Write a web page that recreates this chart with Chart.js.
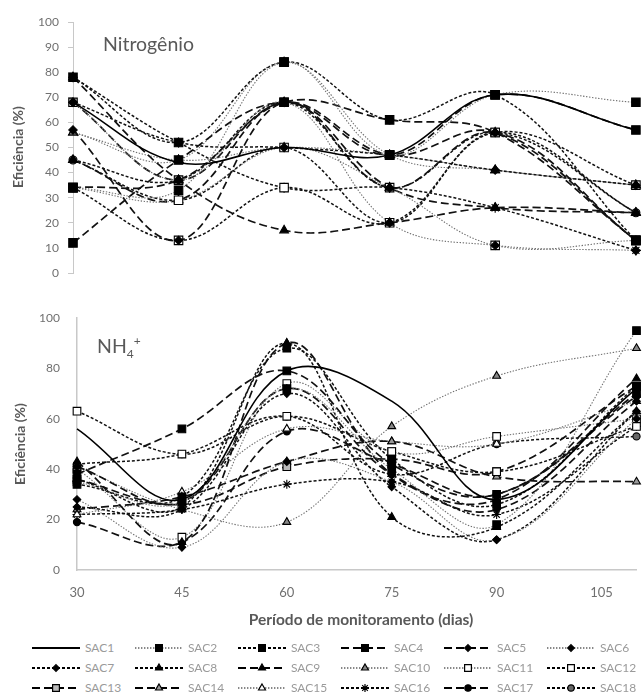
<!DOCTYPE html>
<html><head><meta charset="utf-8">
<script src="https://cdn.jsdelivr.net/npm/chart.js@4.4.1/dist/chart.umd.min.js"></script>
<style>
body{margin:0;width:643px;height:697px;overflow:hidden;background:#fff;position:relative;font-family:Lato,"Liberation Sans",sans-serif;}
canvas{position:absolute;left:0;}
.ttl{position:absolute;color:#595959;font-size:19.5px;line-height:1;white-space:nowrap;transform:translateY(-50%);}
.ytitle{position:absolute;color:#595959;font-weight:bold;font-size:14px;line-height:1;white-space:nowrap;transform:translate(-50%,-50%) rotate(-90deg);}
.xtitle{position:absolute;color:#595959;font-weight:bold;font-size:15.5px;line-height:1;white-space:nowrap;transform:translate(-50%,-50%);}
.lg{position:absolute;height:14px;transform:translateY(-50%);}
.lg canvas{position:absolute;left:0;top:0;}
.lg span{position:absolute;left:53px;top:0;font-size:12px;line-height:14px;color:#9a9a9a;white-space:nowrap;}
</style>
</head><body>
<canvas id="c1" width="643" height="290" style="top:0"></canvas>
<canvas id="c2" width="643" height="340" style="top:290px"></canvas>
<div class="ttl" style="left:103px;top:44px">Nitrogênio</div>
<div class="ttl" style="left:97px;top:346px">NH<span style="font-size:12px;position:relative;top:5px">4</span><span style="font-size:12px;position:relative;top:-8px">+</span></div>
<div class="ytitle" style="left:18px;top:147px">Eficiência (%)</div>
<div class="ytitle" style="left:20px;top:444px">Eficiência (%)</div>
<div class="xtitle" style="left:361px;top:620px">Período de monitoramento (dias)</div>
<div id="legend"></div>
<script>
// ---- data ----
const days = [30, 45, 60, 75, 90, 110];
const seriesNames = ['SAC1','SAC2','SAC3','SAC4','SAC5','SAC6','SAC7','SAC8','SAC9','SAC10','SAC11','SAC12','SAC13','SAC14','SAC15','SAC16','SAC17','SAC18'];
const yTicksNitrogenio = [0,10,20,30,40,50,60,70,80,90,100];
const yTicksNH4 = [0,20,40,60,80,100];
const xTickLabels = [30,45,60,75,90,105];

// Nitrogênio efficiency (%)
const N_SAC1  = [68, 44, 50, 47, 71, 57];
const N_SAC2  = [34, 33, 84, 47, 71, 68];
const N_SAC3  = [78, 52, 84, 61, 71, 13];
const N_SAC4  = [12, 45, 68, 47, 71, 57];
const N_SAC5  = [57, 13, 68, 34, 56, 13];
const N_SAC6  = [68, 37, 68, 20, 11, 9];
const N_SAC7  = [68, 52, 50, 47, 41, 35];
const N_SAC8  = [45, 37, 68, 34, 56, 24];
const N_SAC9  = [78, 37, 17, 20, 26, 24];
const N_SAC10 = [56, 45, 84, 47, 41, 35];
const N_SAC11 = [34, 29, 50, 34, 11, 13];
const N_SAC12 = [34, 13, 34, 20, 56, 35];
const N_SAC13 = [68, 37, 68, 47, 56, 13];
const N_SAC14 = [45, 29, 68, 34, 26, 24];
const N_SAC15 = [56, 45, 50, 47, 41, 35];
const N_SAC16 = [78, 52, 34, 34, 26, 9];
const N_SAC17 = [34, 37, 68, 61, 56, 13];
const N_SAC18 = [45, 29, 50, 20, 56, 24];

// NH4+ efficiency (%)
const A_SAC1  = [56, 28, 79, 67, 28, 72];
const A_SAC2  = [35, 27, 72, 40, 18, 95];
const A_SAC3  = [34, 29, 88, 44, 26, 73];
const A_SAC4  = [38, 56, 79, 42, 30, 70];
const A_SAC5  = [41, 27, 72, 38, 24, 67];
const A_SAC6  = [28, 9, 43, 35, 12, 60];
const A_SAC7  = [25, 24, 70, 33, 12, 63];
const A_SAC8  = [36, 25, 90, 21, 17, 63];
const A_SAC9  = [43, 11, 90, 38, 28, 76];
const A_SAC10 = [41, 24, 19, 57, 77, 88];
const A_SAC11 = [40, 13, 74, 47, 53, 60];
const A_SAC12 = [63, 46, 61, 47, 39, 57];
const A_SAC13 = [36, 26, 41, 44, 39, 73];
const A_SAC14 = [24, 29, 43, 51, 37, 35];
const A_SAC15 = [22, 31, 56, 51, 50, 67];
const A_SAC16 = [22, 24, 34, 35, 22, 57];
const A_SAC17 = [19, 11, 55, 42, 30, 69];
const A_SAC18 = [42, 46, 61, 38, 50, 53];

const nitroSeries = [N_SAC1,N_SAC2,N_SAC3,N_SAC4,N_SAC5,N_SAC6,N_SAC7,N_SAC8,N_SAC9,N_SAC10,N_SAC11,N_SAC12,N_SAC13,N_SAC14,N_SAC15,N_SAC16,N_SAC17,N_SAC18];
const nh4Series = [A_SAC1,A_SAC2,A_SAC3,A_SAC4,A_SAC5,A_SAC6,A_SAC7,A_SAC8,A_SAC9,A_SAC10,A_SAC11,A_SAC12,A_SAC13,A_SAC14,A_SAC15,A_SAC16,A_SAC17,A_SAC18];

// ---- styles ----
const LINE = {
  solid: {dash: [], width: 1.6, color: '#000'},
  dot:   {dash: [1.4, 1.6], width: 1.1, color: '#707070'},
  dash:  {dash: [3, 2], width: 1.5, color: '#111'},
  long:  {dash: [8, 4], width: 1.7, color: '#111'}
};
const STYLE = [
  ['solid', null, null],
  ['dot', 'rect', '#000'],
  ['dash', 'rect', '#000'],
  ['long', 'rect', '#000'],
  ['long', 'rectRot', '#000'],
  ['dot', 'rectRot', '#000'],
  ['dash', 'rectRot', '#000'],
  ['dash', 'triangle', '#000'],
  ['long', 'triangle', '#000'],
  ['dot', 'triangle', '#888'],
  ['dot', 'rect', '#fff'],
  ['dash', 'rect', '#fff'],
  ['long', 'rect', '#bbb'],
  ['long', 'triangle', '#999'],
  ['dot', 'triangle', '#fff'],
  ['dash', 'star', '#000'],
  ['long', 'circle', '#000'],
  ['dash', 'circle', '#666']
];
const RADIUS = {rect: 6, rectRot: 4.2, triangle: 5, circle: 4, star: 5};

function buildDatasets(series, scale) {
  return series.map((vals, i) => {
    const [lt, ps, fill] = STYLE[i];
    const L = LINE[lt];
    return {
      label: seriesNames[i],
      data: days.map((d, k) => ({x: d, y: vals[k]})),
      borderColor: L.color,
      borderWidth: L.width,
      borderDash: L.dash,
      tension: 0.38,
      fill: false,
      clip: false,
      pointStyle: ps || 'circle',
      pointRadius: ps ? RADIUS[ps] * scale : 0,
      pointBackgroundColor: fill || '#000',
      pointBorderColor: '#000',
      pointBorderWidth: ps ? 1.1 : 0
    };
  });
}

const tickFont = {family: 'Lato, "Liberation Sans", sans-serif', size: 12};

new Chart(document.getElementById('c1'), {
  type: 'line',
  data: {datasets: buildDatasets(nitroSeries, 1)},
  options: {
    responsive: false, animation: false,
    layout: {padding: {top: 22, bottom: 17, left: 0, right: 1}},
    plugins: {legend: {display: false}, tooltip: {enabled: false}},
    scales: {
      x: {type: 'linear', min: 30, max: 110, display: false},
      y: {
        min: 0, max: 100,
        afterBuildTicks: s => { s.ticks = yTicksNitrogenio.map(v => ({value: v})); },
        afterFit: s => { s.width = 73; },
        ticks: {color: '#707070', font: tickFont, padding: 9},
        grid: {drawOnChartArea: false, drawTicks: true, tickLength: 5, color: '#c8c8c8'},
        border: {display: true, color: '#c8c8c8', width: 1}
      }
    }
  }
});

new Chart(document.getElementById('c2'), {
  type: 'line',
  data: {datasets: buildDatasets(nh4Series, 0.9)},
  options: {
    responsive: false, animation: false,
    layout: {padding: {top: 28, bottom: 20, left: 0, right: 2}},
    plugins: {legend: {display: false}, tooltip: {enabled: false}},
    scales: {
      x: {
        type: 'linear', min: 30, max: 110,
        afterBuildTicks: s => { s.ticks = xTickLabels.map(v => ({value: v})); },
        afterFit: s => { s.height = 40; },
        ticks: {color: '#707070', font: {family: tickFont.family, size: 13}, padding: 15, maxRotation: 0},
        grid: {display: false, drawTicks: false},
        border: {display: true, color: '#c8c8c8', width: 1.5}
      },
      y: {
        min: 0, max: 100,
        afterBuildTicks: s => { s.ticks = yTicksNH4.map(v => ({value: v})); },
        afterFit: s => { s.width = 77; },
        ticks: {color: '#707070', font: tickFont, padding: 17},
        grid: {display: false, drawTicks: false},
        border: {display: true, color: '#c8c8c8', width: 1.5}
      }
    }
  }
});

// ---- legend ----
function drawMarker(ctx, ps, fill, x, y, r) {
  ctx.save();
  ctx.setLineDash([]);
  ctx.fillStyle = fill; ctx.strokeStyle = '#000'; ctx.lineWidth = 1.2;
  ctx.beginPath();
  if (ps === 'rect') { const h = r * Math.SQRT1_2; ctx.rect(x - h, y - h, 2 * h, 2 * h); }
  else if (ps === 'rectRot') { ctx.moveTo(x, y - r); ctx.lineTo(x + r, y); ctx.lineTo(x, y + r); ctx.lineTo(x - r, y); ctx.closePath(); }
  else if (ps === 'triangle') { ctx.moveTo(x, y - r); ctx.lineTo(x + r * 0.87, y + r * 0.5); ctx.lineTo(x - r * 0.87, y + r * 0.5); ctx.closePath(); }
  else if (ps === 'circle') { ctx.arc(x, y, r, 0, Math.PI * 2); }
  else if (ps === 'star') { ctx.moveTo(x, y - r); ctx.lineTo(x, y + r); ctx.moveTo(x - r, y); ctx.lineTo(x + r, y); ctx.moveTo(x - r*0.7, y - r*0.7); ctx.lineTo(x + r*0.7, y + r*0.7); ctx.moveTo(x - r*0.7, y + r*0.7); ctx.lineTo(x + r*0.7, y - r*0.7); ctx.stroke(); ctx.restore(); return; }
  ctx.fill(); ctx.stroke();
  ctx.restore();
}
const legendCols = [32, 135, 238, 341, 444, 547];
const legendRows = [648, 668, 688];
const legend = document.getElementById('legend');
seriesNames.forEach((name, i) => {
  const [lt, ps, fill] = STYLE[i];
  const L = LINE[lt];
  const div = document.createElement('div');
  div.className = 'lg';
  div.style.left = legendCols[i % 6] + 'px';
  div.style.top = legendRows[Math.floor(i / 6)] + 'px';
  const cv = document.createElement('canvas');
  cv.width = 49; cv.height = 14;
  const ctx = cv.getContext('2d');
  ctx.strokeStyle = L.color === '#707070' ? '#606060' : '#000';
  ctx.lineWidth = L.width + 0.3;
  ctx.setLineDash(L.dash);
  ctx.beginPath(); ctx.moveTo(0, 7); ctx.lineTo(48, 7); ctx.stroke();
  if (ps) drawMarker(ctx, ps, fill, 24, 7, RADIUS[ps] * 0.8);
  div.appendChild(cv);
  const sp = document.createElement('span');
  sp.textContent = name;
  div.appendChild(sp);
  legend.appendChild(div);
});
</script>
</body></html>
